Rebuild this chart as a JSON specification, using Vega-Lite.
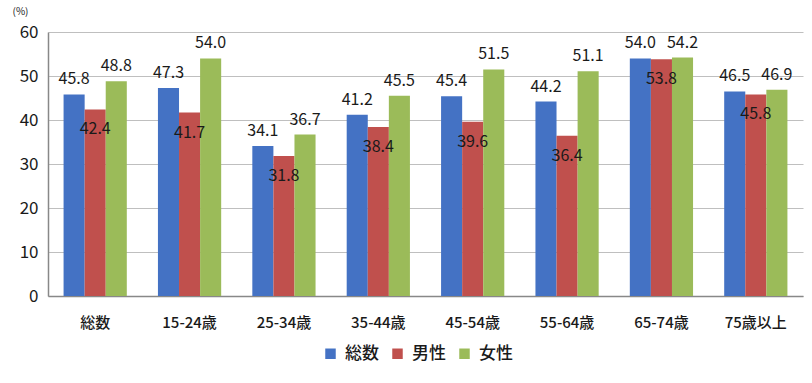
{
  "$schema": "https://vega.github.io/schema/vega-lite/v6.json",
  "autosize": "none",
  "width": 755,
  "height": 264,
  "padding": {"left": 48, "top": 32, "right": 9, "bottom": 87},
  "background": "white",
  "config": {
    "font": "Noto Sans CJK JP",
    "view": {"stroke": null}
  },
  "data": {
    "values": [
      {"age": "総数", "series": "総数", "value": 45.8},
      {"age": "総数", "series": "男性", "value": 42.4},
      {"age": "総数", "series": "女性", "value": 48.8},
      {"age": "15-24歳", "series": "総数", "value": 47.3},
      {"age": "15-24歳", "series": "男性", "value": 41.7},
      {"age": "15-24歳", "series": "女性", "value": 54.0},
      {"age": "25-34歳", "series": "総数", "value": 34.1},
      {"age": "25-34歳", "series": "男性", "value": 31.8},
      {"age": "25-34歳", "series": "女性", "value": 36.7},
      {"age": "35-44歳", "series": "総数", "value": 41.2},
      {"age": "35-44歳", "series": "男性", "value": 38.4},
      {"age": "35-44歳", "series": "女性", "value": 45.5},
      {"age": "45-54歳", "series": "総数", "value": 45.4},
      {"age": "45-54歳", "series": "男性", "value": 39.6},
      {"age": "45-54歳", "series": "女性", "value": 51.5},
      {"age": "55-64歳", "series": "総数", "value": 44.2},
      {"age": "55-64歳", "series": "男性", "value": 36.4},
      {"age": "55-64歳", "series": "女性", "value": 51.1},
      {"age": "65-74歳", "series": "総数", "value": 54.0},
      {"age": "65-74歳", "series": "男性", "value": 53.8},
      {"age": "65-74歳", "series": "女性", "value": 54.2},
      {"age": "75歳以上", "series": "総数", "value": 46.5},
      {"age": "75歳以上", "series": "男性", "value": 45.8},
      {"age": "75歳以上", "series": "女性", "value": 46.9}
    ]
  },
  "encoding": {
    "x": {
      "field": "age",
      "type": "nominal",
      "sort": null,
      "scale": {"paddingInner": 0.33, "paddingOuter": 0.165},
      "axis": {
        "title": null,
        "labelAngle": 0,
        "labelFontSize": 15,
        "labelFontWeight": 500,
        "labelColor": "#1a1a1a",
        "labelPadding": 19,
        "labelBaseline": "top",
        "ticks": false,
        "domainColor": "#888888",
        "domainWidth": 1.5,
        "grid": false
      }
    },
    "xOffset": {
      "field": "series",
      "type": "nominal",
      "sort": ["総数", "男性", "女性"],
      "scale": {"domain": ["総数", "男性", "女性"], "paddingInner": 0, "paddingOuter": 0}
    },
    "y": {
      "field": "value",
      "type": "quantitative",
      "scale": {"domain": [0, 60], "nice": false},
      "axis": {
        "values": [0, 10, 20, 30, 40, 50, 60],
        "title": "(%)",
        "titleAngle": 0,
        "titleX": -36,
        "titleY": -21,
        "titleAlign": "left",
        "titleBaseline": "middle",
        "titleFontSize": 10,
        "titleFontWeight": "normal",
        "titleColor": "#222222",
        "labelFontSize": 17,
        "labelColor": "#1a1a1a",
        "labelPadding": 10,
        "ticks": false,
        "domainColor": "#888888",
        "domainWidth": 1.5,
        "gridColor": "#BFBFBF",
        "gridWidth": 1
      }
    }
  },
  "layer": [
    {
      "mark": {"type": "bar"},
      "encoding": {
        "color": {
          "field": "series",
          "type": "nominal",
          "sort": ["総数", "男性", "女性"],
          "scale": {"domain": ["総数", "男性", "女性"], "range": ["#4472C4", "#C0504D", "#9BBB59"]},
          "legend": {
            "title": null,
            "orient": "none",
            "direction": "horizontal",
            "legendX": 274,
            "legendY": 313,
            "symbolType": "square",
            "symbolSize": 110,
            "symbolStrokeWidth": 0,
            "symbolOpacity": 1,
            "labelFontSize": 17,
            "labelFontWeight": 500,
            "labelColor": "#1a1a1a",
            "labelOffset": 6,
            "columnPadding": 10
          }
        }
      }
    },
    {
      "transform": [{"filter": "datum.series !== '男性'"}],
      "mark": {"type": "text", "baseline": "middle", "align": "center", "dy": -15, "fontSize": 16, "color": "#1a1a1a"},
      "encoding": {
        "text": {"field": "value", "type": "quantitative", "format": ".1f"}
      }
    },
    {
      "transform": [{"filter": "datum.series === '男性'"}],
      "mark": {"type": "text", "baseline": "middle", "align": "center", "dy": 20, "fontSize": 16, "color": "#1a1a1a"},
      "encoding": {
        "text": {"field": "value", "type": "quantitative", "format": ".1f"}
      }
    }
  ]
}
